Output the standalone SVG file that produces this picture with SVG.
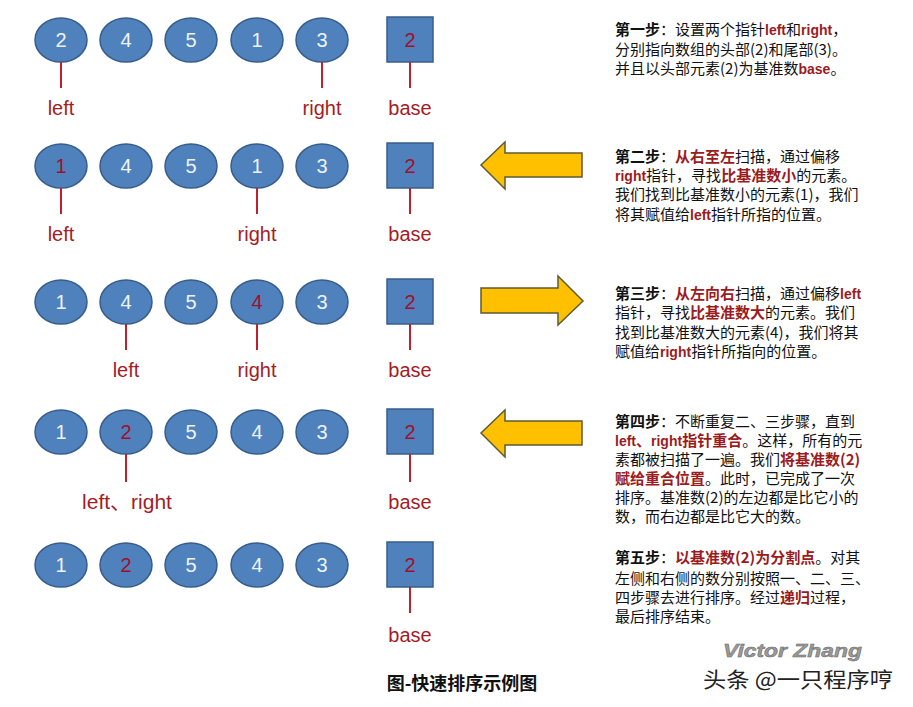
<svg xmlns="http://www.w3.org/2000/svg" width="913" height="707" viewBox="0 0 913 707">
<style>
.c{fill:#4F81BD;stroke:#385D8A;stroke-width:1.5}
.sq{fill:#4F81BD;stroke:#385D8A;stroke-width:1.5}
.n{font-family:"Liberation Sans",Arial,sans-serif;font-size:20px;fill:#EEF3FA;text-anchor:middle}
.nr{fill:#A0102A}
.lb{font-family:"Liberation Sans",Arial,sans-serif;font-size:20px;fill:#A51C24;text-anchor:middle}
.ln{stroke:#C0202A;stroke-width:2}
.ar{fill:#FFC000;stroke:#5F5A32;stroke-width:1.5}
.t{font-family:"Noto Sans CJK SC","Liberation Sans",sans-serif;font-size:15px;fill:#111}
.b{font-weight:bold}
.r{font-weight:bold;fill:#9B1B20}
.rl{font-family:"Liberation Sans",Arial,sans-serif;font-weight:bold;font-size:14px;fill:#9B1B20}
</style>
<rect width="913" height="707" fill="#fff"/>
<defs>
<ellipse id="e" cx="0" cy="0" rx="26" ry="22" class="c"/>
</defs>

<!-- Row 1 -->
<g id="row1">
<g id="r1n1"><use href="#e" x="61" y="40"/><text class="n" x="61" y="47">2</text></g>
<g id="r1n2"><use href="#e" x="126" y="40"/><text class="n" x="126" y="47">4</text></g>
<g id="r1n3"><use href="#e" x="191" y="40"/><text class="n" x="191" y="47">5</text></g>
<g id="r1n4"><use href="#e" x="257" y="40"/><text class="n" x="257" y="47">1</text></g>
<g id="r1n5"><use href="#e" x="322" y="40"/><text class="n" x="322" y="47">3</text></g>
<g id="r1base"><rect class="sq" x="387" y="17" width="46" height="45"/><text class="n nr" x="410" y="47">2</text></g>
<g id="r1lbl"><text class="lb" x="61" y="115">left</text><text class="lb" x="322" y="115">right</text><text class="lb" x="410" y="115">base</text></g>
</g>

<!-- Row 2 -->
<g id="row2">
<g id="r2n1"><use href="#e" x="61" y="166"/><text class="n nr" x="61" y="173">1</text></g>
<g id="r2n2"><use href="#e" x="126" y="166"/><text class="n" x="126" y="173">4</text></g>
<g id="r2n3"><use href="#e" x="191" y="166"/><text class="n" x="191" y="173">5</text></g>
<g id="r2n4"><use href="#e" x="257" y="166"/><text class="n" x="257" y="173">1</text></g>
<g id="r2n5"><use href="#e" x="322" y="166"/><text class="n" x="322" y="173">3</text></g>
<g id="r2base"><rect class="sq" x="387" y="143" width="46" height="45"/><text class="n nr" x="410" y="173">2</text></g>
<g id="r2lbl"><text class="lb" x="61" y="241">left</text><text class="lb" x="257" y="241">right</text><text class="lb" x="410" y="241">base</text></g>
</g>

<!-- Row 3 -->
<g id="row3">
<g id="r3n1"><use href="#e" x="61" y="302"/><text class="n" x="61" y="309">1</text></g>
<g id="r3n2"><use href="#e" x="126" y="302"/><text class="n" x="126" y="309">4</text></g>
<g id="r3n3"><use href="#e" x="191" y="302"/><text class="n" x="191" y="309">5</text></g>
<g id="r3n4"><use href="#e" x="257" y="302"/><text class="n nr" x="257" y="309">4</text></g>
<g id="r3n5"><use href="#e" x="322" y="302"/><text class="n" x="322" y="309">3</text></g>
<g id="r3base"><rect class="sq" x="387" y="279" width="46" height="45"/><text class="n nr" x="410" y="309">2</text></g>
<g id="r3lbl"><text class="lb" x="126" y="377">left</text><text class="lb" x="257" y="377">right</text><text class="lb" x="410" y="377">base</text></g>
</g>

<!-- Row 4 -->
<g id="row4">
<g id="r4n1"><use href="#e" x="61" y="432"/><text class="n" x="61" y="439">1</text></g>
<g id="r4n2"><use href="#e" x="126" y="432"/><text class="n nr" x="126" y="439">2</text></g>
<g id="r4n3"><use href="#e" x="191" y="432"/><text class="n" x="191" y="439">5</text></g>
<g id="r4n4"><use href="#e" x="257" y="432"/><text class="n" x="257" y="439">4</text></g>
<g id="r4n5"><use href="#e" x="322" y="432"/><text class="n" x="322" y="439">3</text></g>
<g id="r4base"><rect class="sq" x="387" y="409" width="46" height="45"/><text class="n nr" x="410" y="439">2</text></g>
<g id="r4lbl"><text class="lb" x="127" y="509" style="font-size:21px">left<tspan font-family="Noto Sans CJK SC">、</tspan>right</text><text class="lb" x="410" y="509">base</text></g>
</g>

<!-- Row 5 -->
<g id="row5">
<g id="r5n1"><use href="#e" x="61" y="565"/><text class="n" x="61" y="572">1</text></g>
<g id="r5n2"><use href="#e" x="126" y="565"/><text class="n nr" x="126" y="572">2</text></g>
<g id="r5n3"><use href="#e" x="191" y="565"/><text class="n" x="191" y="572">5</text></g>
<g id="r5n4"><use href="#e" x="257" y="565"/><text class="n" x="257" y="572">4</text></g>
<g id="r5n5"><use href="#e" x="322" y="565"/><text class="n" x="322" y="572">3</text></g>
<g id="r5base"><rect class="sq" x="387" y="542" width="46" height="45"/><text class="n nr" x="410" y="572">2</text></g>
<g id="r5lbl"><text class="lb" x="410" y="642">base</text></g>
</g>

<!-- Pointer connectors -->
<g id="connectors">
<line class="ln" x1="61" y1="62" x2="61" y2="88"/>
<line class="ln" x1="322" y1="62" x2="322" y2="88"/>
<line class="ln" x1="410" y1="62" x2="410" y2="88"/>
<line class="ln" x1="61" y1="188" x2="61" y2="214"/>
<line class="ln" x1="257" y1="188" x2="257" y2="214"/>
<line class="ln" x1="410" y1="188" x2="410" y2="214"/>
<line class="ln" x1="126" y1="324" x2="126" y2="350"/>
<line class="ln" x1="257" y1="324" x2="257" y2="350"/>
<line class="ln" x1="410" y1="324" x2="410" y2="350"/>
<line class="ln" x1="126" y1="454" x2="126" y2="482"/>
<line class="ln" x1="410" y1="454" x2="410" y2="482"/>
<line class="ln" x1="410" y1="587" x2="410" y2="613"/>
</g>

<!-- Direction arrows -->
<g id="arrow2"><polygon class="ar" points="481,165 505,142 505,153 582,153 582,177 505,177 505,189"/></g>
<g id="arrow3"><polygon class="ar" points="583,301 558,276 558,288 481,288 481,313 558,313 558,325"/></g>
<g id="arrow4"><polygon class="ar" points="481,433 505,410 505,421 582,421 582,445 505,445 505,457"/></g>

<!-- Step texts -->
<g id="step1">
<text class="t" x="615" y="35"><tspan class="b">第一步</tspan>：设置两个指针<tspan class="rl">left</tspan>和<tspan class="rl">right</tspan>，</text>
<text class="t" x="615" y="55">分别指向数组的头部(2)和尾部(3)。</text>
<text class="t" x="615" y="74">并且以头部元素(2)为基准数<tspan class="rl">base</tspan>。</text>
</g>
<g id="step2">
<text class="t" x="615" y="162"><tspan class="b">第二步</tspan>：<tspan class="r">从右至左</tspan>扫描，通过偏移</text>
<text class="t" x="615" y="181"><tspan class="rl">right</tspan>指针，寻找<tspan class="r">比基准数小</tspan>的元素。</text>
<text class="t" x="615" y="200">我们找到比基准数小的元素(1)，我们</text>
<text class="t" x="615" y="220">将其赋值给<tspan class="rl">left</tspan>指针所指的位置。</text>
</g>
<g id="step3">
<text class="t" x="615" y="299"><tspan class="b">第三步</tspan>：<tspan class="r">从左向右</tspan>扫描，通过偏移<tspan class="rl">left</tspan></text>
<text class="t" x="615" y="318">指针，寻找<tspan class="r">比基准数大</tspan>的元素。我们</text>
<text class="t" x="615" y="338">找到比基准数大的元素(4)，我们将其</text>
<text class="t" x="615" y="357">赋值给<tspan class="rl">right</tspan>指针所指向的位置。</text>
</g>
<g id="step4">
<text class="t" x="615" y="427"><tspan class="b">第四步</tspan>：不断重复二、三步骤，直到</text>
<text class="t" x="615" y="446"><tspan class="rl">left</tspan><tspan class="r">、</tspan><tspan class="rl">right</tspan><tspan class="r">指针重合</tspan>。这样，所有的元</text>
<text class="t" x="615" y="465">素都被扫描了一遍。我们<tspan class="r">将基准数(2)</tspan></text>
<text class="t" x="615" y="484"><tspan class="r">赋给重合位置</tspan>。此时，已完成了一次</text>
<text class="t" x="615" y="503">排序。基准数(2)的左边都是比它小的</text>
<text class="t" x="615" y="522">数，而右边都是比它大的数。</text>
</g>
<g id="step5">
<text class="t" x="615" y="563"><tspan class="b">第五步</tspan>：<tspan class="r">以基准数(2)为分割点</tspan>。对其</text>
<text class="t" x="615" y="584">左侧和右侧的数分别按照一、二、三、</text>
<text class="t" x="615" y="603">四步骤去进行排序。经过<tspan class="r">递归</tspan>过程，</text>
<text class="t" x="615" y="622">最后排序结束。</text>
</g>

<!-- Watermark and caption -->
<text x="723" y="657" textLength="139" lengthAdjust="spacingAndGlyphs" font-family="Liberation Sans,Arial,sans-serif" font-size="19" font-weight="bold" font-style="italic" fill="#9A9A9A" stroke="#666" stroke-width="0.5">Victor Zhang</text>
<text x="703" y="687" textLength="190" lengthAdjust="spacingAndGlyphs" font-family="Noto Sans CJK SC,sans-serif" font-size="21" fill="#222">头条 @一只程序哼</text>
<text x="462" y="690" font-family="Noto Sans CJK SC,sans-serif" font-size="18" font-weight="bold" fill="#111" text-anchor="middle">图-快速排序示例图</text>
</svg>
